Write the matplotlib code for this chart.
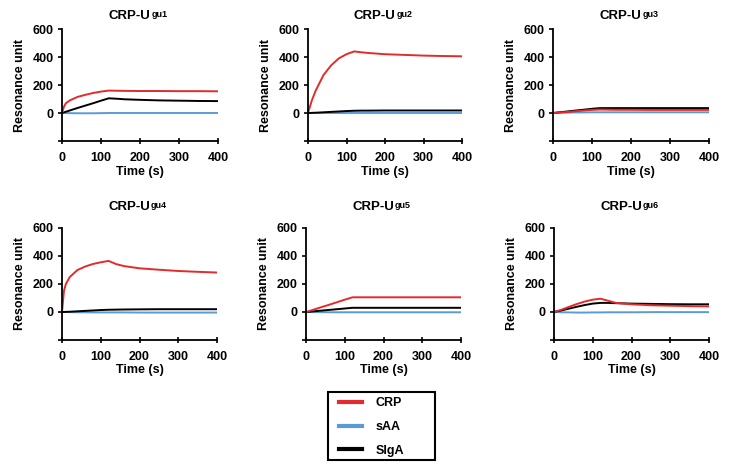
import matplotlib
matplotlib.use("Agg")
import matplotlib.pyplot as plt
from matplotlib.lines import Line2D
from matplotlib.patches import Rectangle
from matplotlib.offsetbox import TextArea, HPacker, AnchoredOffsetbox

plt.rcParams['font.family'] = ['Liberation Sans', 'DejaVu Sans']
plt.rcParams['font.weight'] = 'bold'

title_main = "CRP-U"
title_sup = ["gu1", "gu2", "gu3", "gu4", "gu5", "gu6"]
time_s = [0, 5, 10, 20, 40, 60, 80, 100, 120, 140, 160, 200, 250, 300, 350, 400]

crp = [
    [0, 45, 70, 90, 115, 130, 143, 153, 160, 159, 158, 157, 157, 156, 156, 155],
    [0, 45, 90, 160, 270, 340, 390, 420, 440, 433, 428, 420, 415, 410, 407, 405],
    [0, 1, 2, 4, 8, 13, 18, 22, 25, 24, 23, 23, 22, 22, 22, 22],
    [0, 150, 200, 250, 300, 325, 343, 355, 365, 342, 328, 312, 302, 293, 287, 282],
    [0, 4, 8, 17, 35, 52, 70, 88, 105, 105, 105, 105, 105, 105, 105, 105],
    [0, 4, 8, 17, 38, 58, 75, 88, 95, 80, 65, 55, 48, 45, 42, 40],
]
saa = [
    [0, 0, 0, -1, -2, -2, -2, -1, 0, 0, 0, 0, 0, 0, 0, 0],
    [0, 0, 0, 0, 0, 0, 0, 0, 0, 0, 0, 0, 0, 0, 0, 0],
    [0, 1, 1, 2, 3, 4, 4, 5, 5, 5, 5, 5, 5, 5, 5, 5],
    [0, 0, 0, -1, -2, -2, -3, -3, -3, -3, -3, -4, -4, -4, -4, -4],
    [0, 0, 0, -1, -1, -2, -2, -2, -2, -2, -2, -2, -2, -2, -2, -2],
    [0, 0, -1, -2, -3, -4, -4, -3, -3, -2, -2, -2, -1, -1, -1, -1],
]
siga = [
    [0, 4, 9, 18, 36, 53, 70, 88, 105, 102, 98, 94, 90, 88, 86, 85],
    [0, 0, 1, 2, 5, 8, 11, 14, 16, 17, 17, 18, 18, 18, 18, 18],
    [0, 1, 3, 6, 12, 18, 24, 30, 35, 35, 35, 35, 35, 35, 35, 35],
    [0, 0, 1, 2, 5, 8, 11, 14, 16, 17, 18, 19, 20, 20, 20, 20],
    [0, 1, 2, 5, 10, 15, 20, 25, 30, 30, 30, 30, 30, 30, 30, 30],
    [0, 3, 6, 12, 25, 38, 50, 60, 65, 65, 63, 60, 58, 56, 55, 55],
]
series_names = ["CRP", "sAA", "SIgA"]
colors = ["#e32b2b", "#5a9bd5", "#000000"]

W, H = 729, 470
fig = plt.figure(figsize=(W / 100, H / 100), dpi=100)

lefts = [[62, 308, 553], [62, 306, 554]]
widths = [[156, 154, 156], [155, 155, 155]]
rows_y = [(29, 141), (228, 340)]
title_y_px = [22, 213]

for r in range(2):
    for c in range(3):
        i = r * 3 + c
        top, bot = rows_y[r]
        ax = fig.add_axes([lefts[r][c] / W, 1 - bot / H, widths[r][c] / W, (bot - top) / H])
        for vals, col in zip([saa[i], siga[i], crp[i]], [colors[1], colors[2], colors[0]]):
            ax.plot(time_s, vals, color=col, lw=1.4)
        ax.set_xlim(0, 400)
        ax.set_ylim(-200, 600)
        ax.set_xticks([0, 100, 200, 300, 400])
        ax.set_yticks([-200, 0, 200, 400, 600])
        ax.set_yticklabels(["", "0", "200", "400", "600"])
        ax.spines['top'].set_visible(False)
        ax.spines['right'].set_visible(False)
        ax.spines['left'].set_linewidth(1.3)
        ax.spines['bottom'].set_linewidth(1.3)
        ax.tick_params(axis='y', direction='out', length=3, width=1.2, labelsize=9, pad=3)
        ax.tick_params(axis='x', direction='inout', length=4, width=1.2, labelsize=9, pad=6)
        for lab in ax.get_xticklabels() + ax.get_yticklabels():
            lab.set_fontweight('bold')
        ax.set_xlabel("Time (s)", fontsize=9, fontweight='bold', labelpad=1)
        ax.set_ylabel("Resonance unit", fontsize=9, fontweight='bold', labelpad=5)
        box = HPacker(children=[TextArea(title_main, textprops=dict(fontsize=9.5, fontweight='bold')),
                                TextArea(title_sup[i], textprops=dict(fontsize=6.5, fontweight='bold'))],
                      align="top", pad=0, sep=0.5)
        ab = AnchoredOffsetbox(loc='lower center', child=box, frameon=False, pad=0, borderpad=0,
                               bbox_to_anchor=((lefts[r][c] + widths[r][c] / 2 - 2) / W,
                                               1 - title_y_px[r] / H),
                               bbox_transform=fig.transFigure)
        fig.add_artist(ab)

handles = [Line2D([0], [0], color=col, lw=3) for col in colors]
leg = fig.legend(handles, series_names, loc='upper left', bbox_to_anchor=(339 / W, 1 - 397 / H),
                 frameon=False, fontsize=9,
                 handlelength=1.8, borderpad=0, labelspacing=0.95, handletextpad=1.1,
                 borderaxespad=0)
for t in leg.get_texts():
    t.set_fontweight('bold')
fig.add_artist(Rectangle((328 / W, 1 - 460 / H), (435 - 328) / W, (460 - 392) / H,
                         transform=fig.transFigure, fill=False, edgecolor='black', lw=1.5))

fig.savefig("out.png", dpi=100)
